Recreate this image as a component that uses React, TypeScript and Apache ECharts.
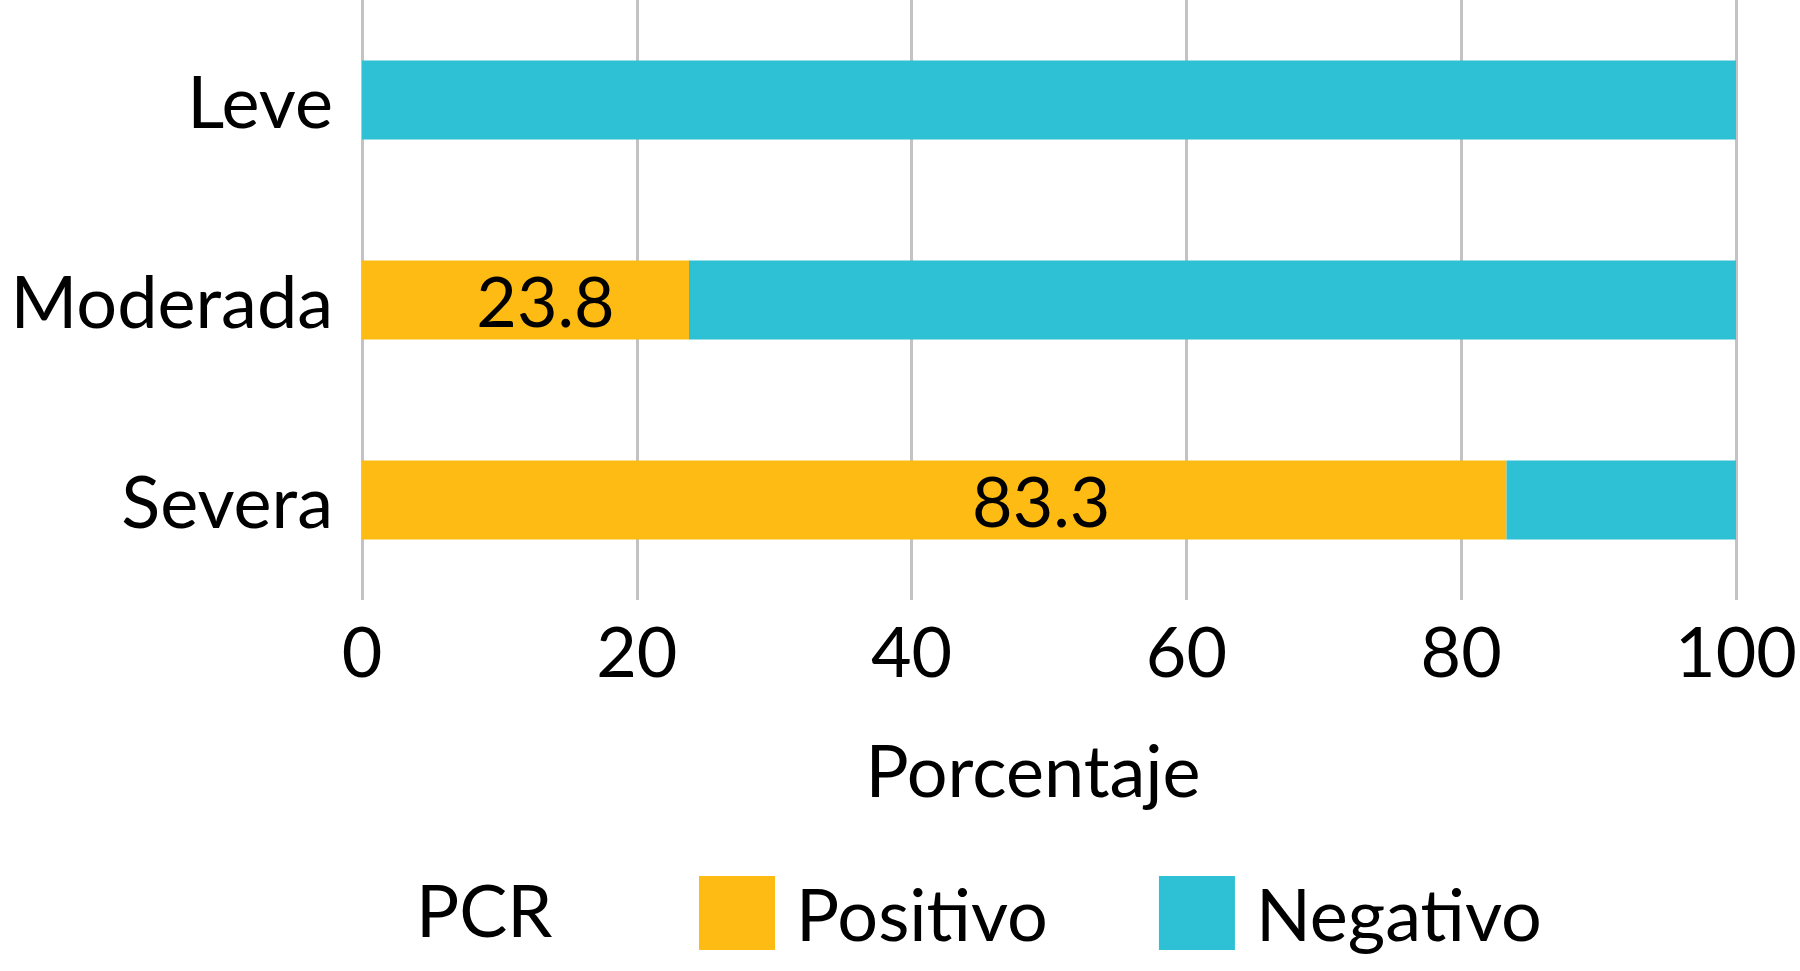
import React, { useEffect, useRef } from "react";
import * as echarts from "echarts";

const categories = ["Leve", "Moderada", "Severa"];
const positivo = [0, 23.8, 83.3];
const negativo = [100, 76.2, 16.7];
const seriesNames = ["Positivo", "Negativo"];
const legendTitle = "PCR";
const axisName = "Porcentaje";

const FONT = "Lato";
const labelOffsets = [0, 20, 107];

export default function App() {
  const ref = useRef<HTMLDivElement>(null);
  useEffect(() => {
    if (!ref.current) return;
    const chart = echarts.init(ref.current, undefined, { renderer: "svg" });
    chart.setOption({
      animation: false,
      backgroundColor: "#ffffff",
      textStyle: { fontFamily: FONT, color: "#000" },
      grid: { left: 362, right: 64, top: 0, height: 600, containLabel: false },
      xAxis: {
        type: "value",
        min: 0,
        max: 100,
        interval: 20,
        name: axisName,
        nameLocation: "middle",
        nameGap: 133,
        nameTextStyle: { fontFamily: FONT, fontSize: 72, color: "#000", padding: [0, 32, 0, 0] },
        axisLine: { show: false },
        axisTick: { show: false },
        axisLabel: { fontFamily: FONT, fontSize: 70, color: "#000", margin: 15 },
        splitLine: { show: true, lineStyle: { color: "#C3C3C3", width: 3 } },
      },
      yAxis: {
        type: "category",
        inverse: true,
        data: categories,
        axisLine: { show: false },
        axisTick: { show: false },
        axisLabel: { fontFamily: FONT, fontSize: 72, color: "#000", margin: 29 },
      },
      legend: {
        left: 694,
        top: 871,
        itemWidth: 76,
        itemHeight: 74,
        itemGap: 111,
        icon: "rect",
        textStyle: { fontFamily: FONT, fontSize: 72, color: "#000", padding: [0, 0, 0, 16] },
        data: seriesNames,
      },
      graphic: [
        {
          type: "text",
          left: 416,
          top: 873,
          style: { text: legendTitle, font: `72px ${FONT}`, fill: "#000" },
        },
      ],
      series: [
        {
          name: seriesNames[0],
          type: "bar",
          stack: "total",
          barWidth: 79,
          itemStyle: { color: "#FDBB13" },
          data: positivo.map((v, i) => ({
            value: v,
            label: { offset: [labelOffsets[i], 0] },
          })),
          label: {
            show: true,
            position: "inside",
            fontFamily: FONT,
            fontSize: 70,
            color: "#000",
            formatter: (p: any) => (p.value > 0 ? String(p.value) : ""),
          },
        },
        {
          name: seriesNames[1],
          type: "bar",
          stack: "total",
          barWidth: 79,
          itemStyle: { color: "#2EC0D4" },
          data: negativo,
        },
      ],
    });
    return () => chart.dispose();
  }, []);
  return (
    <div
      ref={ref}
      style={{ position: "fixed", left: 0, top: 0, width: 1800, height: 971 }}
    />
  );
}
